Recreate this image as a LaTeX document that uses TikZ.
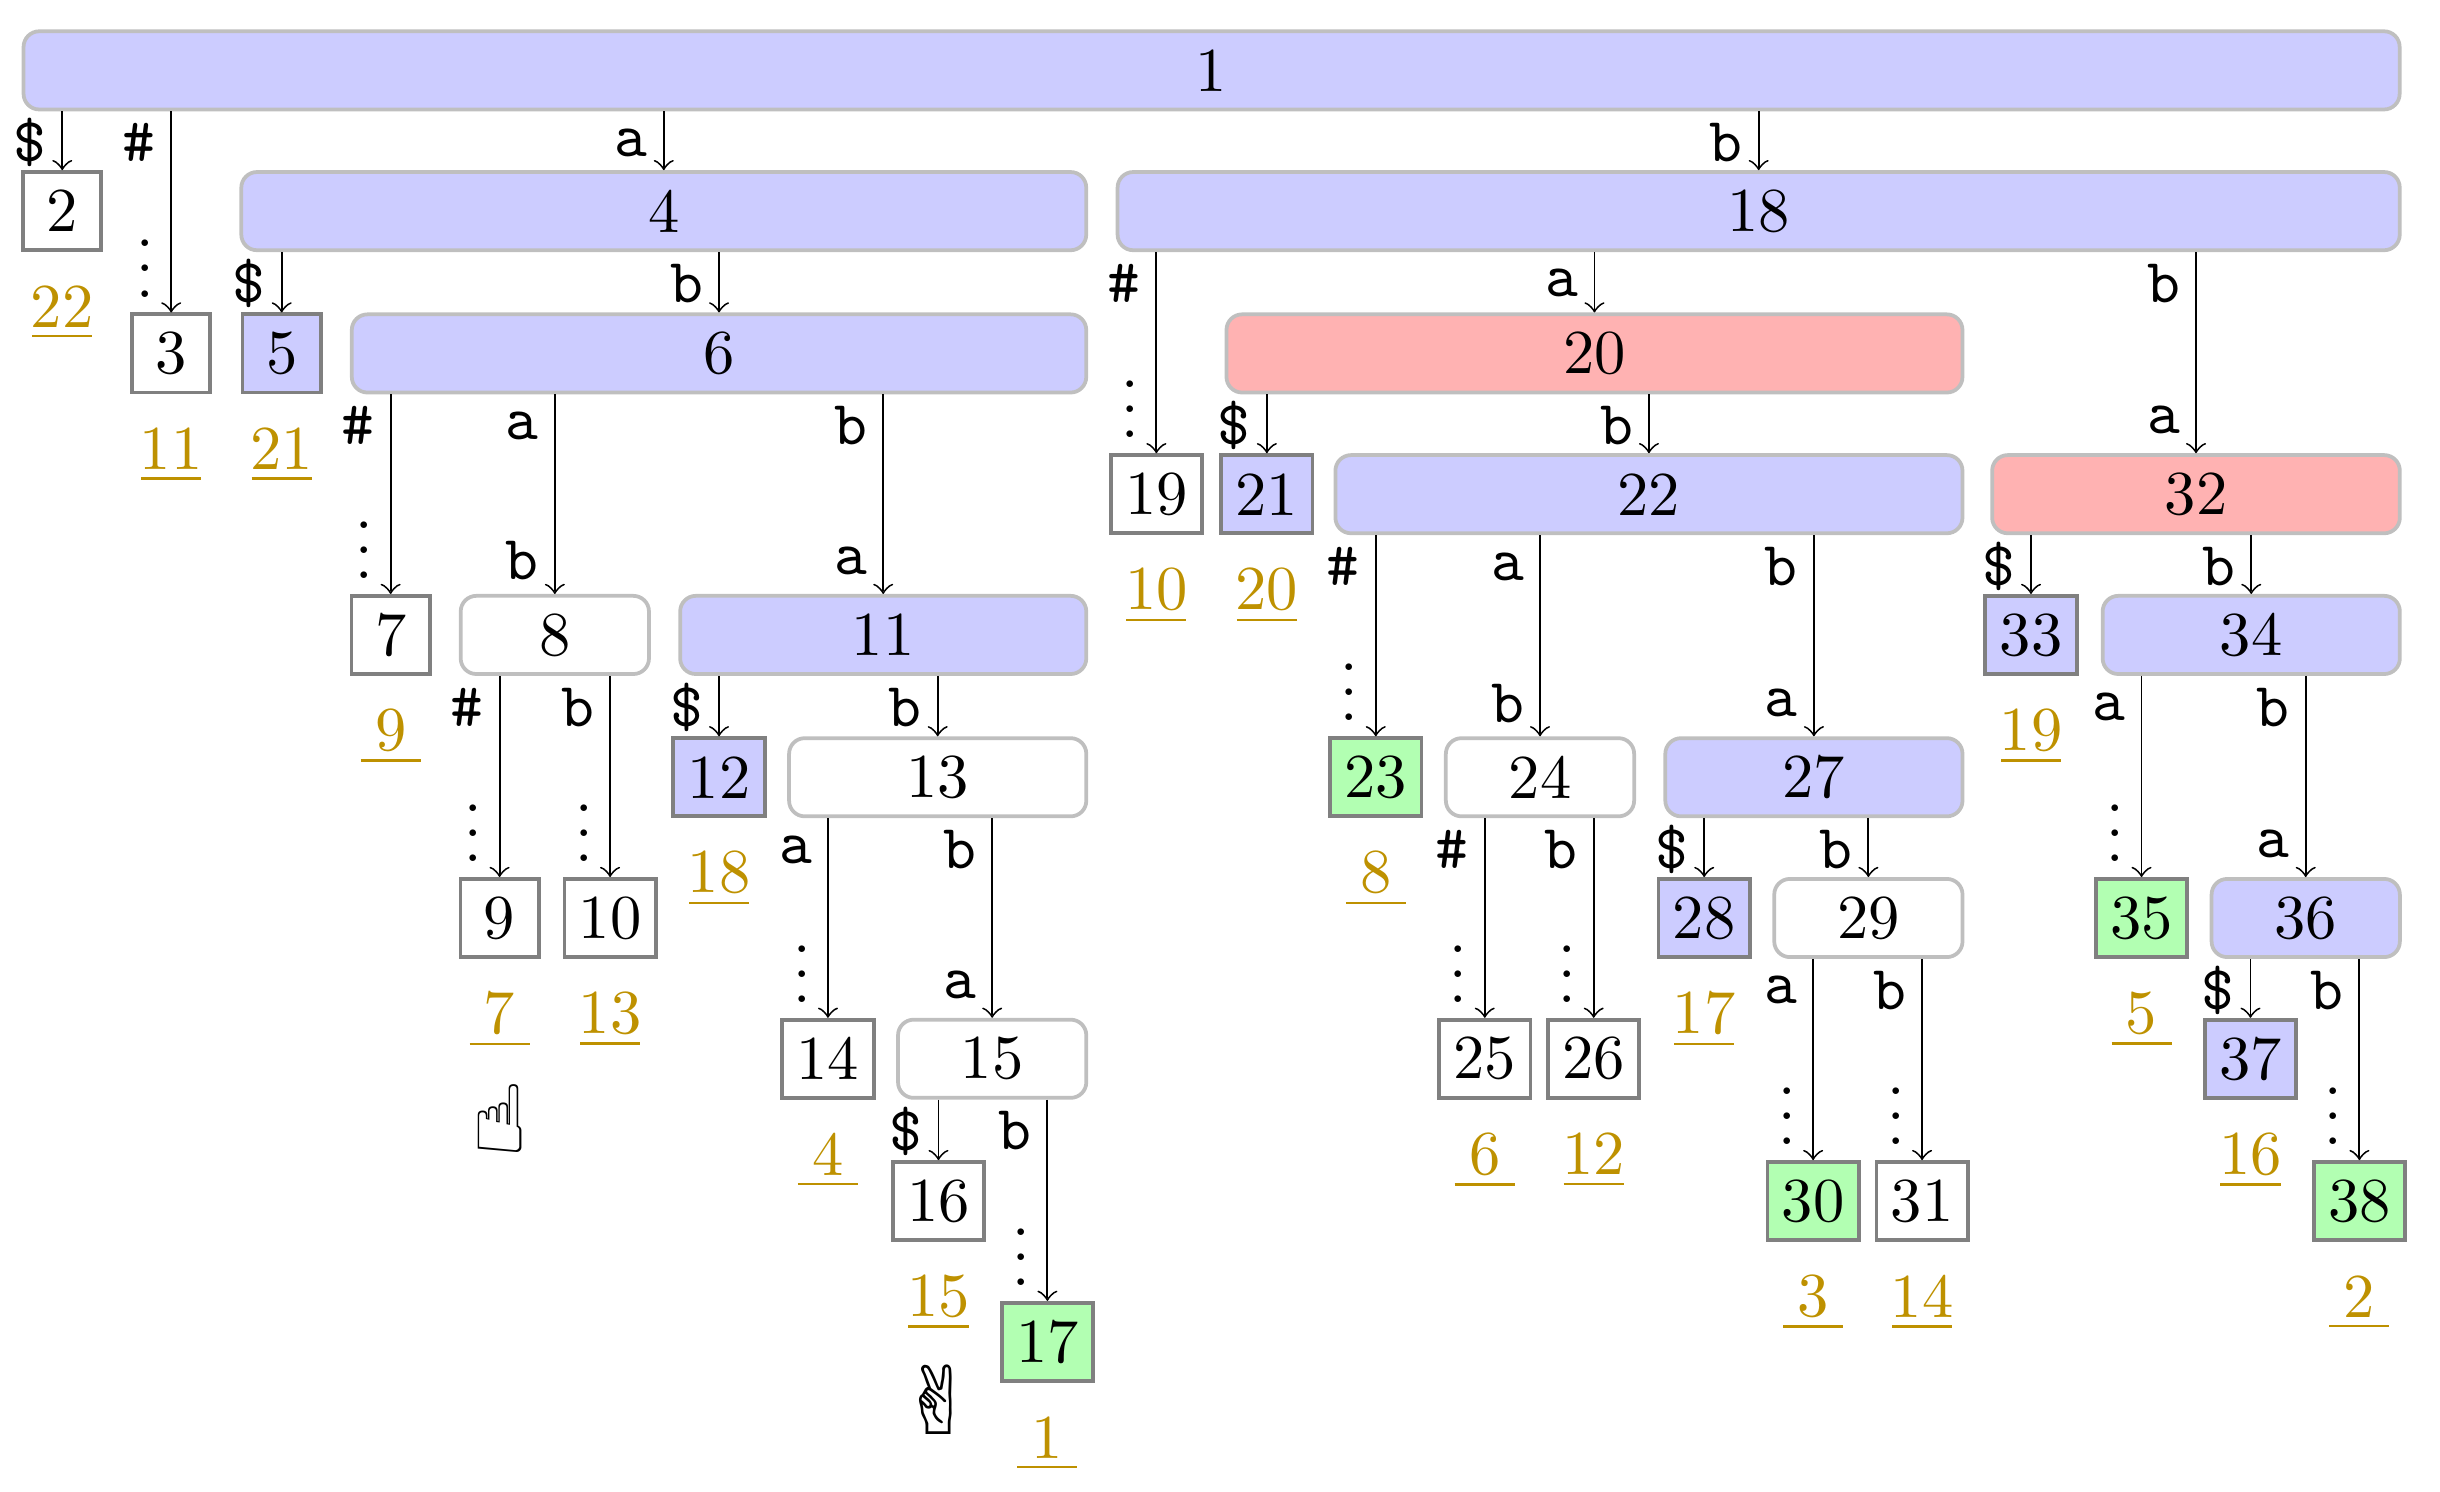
\documentclass[tikz,border=0pt]{standalone}
\usepackage{fontspec}
\newfontfamily\handfont{DejaVu Sans}
\definecolor{gold}{RGB}{190,145,0}
\begin{document}
\begin{tikzpicture}[x={(0.2488pt,0)},y={(0,-0.25pt)},
  inner/.style={draw=gray!50,line width=0.6pt,rounded corners=2.5pt,minimum height=12.5pt,inner sep=0pt},
  wd/.style={minimum width=0.995*#1 pt},
  blue/.style={inner,fill=blue!20},
  red/.style={inner,fill=red!30},
  wht/.style={inner,fill=white},
  leaf/.style={draw=gray,line width=0.6pt,minimum size=12.5pt,inner xsep=2.3pt,inner ysep=0pt},
  bleaf/.style={leaf,fill=blue!20},
  gleaf/.style={leaf,fill=green!30},
  edge/.style={->,line width=0.3pt},
  tl/.style={pos=0,xshift=-5.2pt,yshift=-5pt,inner sep=0pt,font=\ttfamily},
  bl/.style={pos=1,xshift=-5.2pt,yshift=5.3pt,inner sep=0pt,font=\ttfamily},
  dt/.style={pos=1,xshift=-4.2pt,yshift=10pt,inner sep=0pt},
  num/.style={text=gold,inner sep=0pt}]
\useasboundingbox (0,0) rectangle (1567.8,954);
% internal nodes
\node[blue,wd=381.75] (n1) at (778.5,45) {1};
\node[blue,wd=135.75] (n4) at (426.5,135) {4};
\node[blue,wd=206] (n18) at (1130,135) {18};
\node[blue,wd=118] (n6) at (462,226) {6};
\node[red,wd=118.25] (n20) at (1024.5,226) {20};
\node[blue,wd=100.75] (n22) at (1059.5,316) {22};
\node[red,wd=65.5] (n32) at (1411,316) {32};
\node[wht,wd=30.25] (n8) at (356.5,406) {8};
\node[blue,wd=65.25] (n11) at (567.5,406) {11};
\node[blue,wd=47.75] (n34) at (1446.5,406) {34};
\node[wht,wd=47.75] (n13) at (602.5,497) {13};
\node[wht,wd=30.25] (n24) at (989.5,497) {24};
\node[blue,wd=47.75] (n27) at (1165.5,497) {27};
\node[wht,wd=30.25] (n29) at (1200.5,587) {29};
\node[blue,wd=30.25] (n36) at (1481.5,587) {36};
\node[wht,wd=30.25] (n15) at (637.5,677) {15};
% leaves
\node[leaf] (n2) at (40,135) {2};
\node[leaf] (n3) at (110,226) {3};
\node[bleaf] (n5) at (181,226) {5};
\node[leaf] (n19) at (743,316) {19};
\node[bleaf] (n21) at (814,316) {21};
\node[leaf] (n7) at (251,406) {7};
\node[bleaf] (n33) at (1305,406) {33};
\node[bleaf] (n12) at (462,497) {12};
\node[gleaf] (n23) at (884,497) {23};
\node[leaf] (n9) at (321,587) {9};
\node[leaf] (n10) at (392,587) {10};
\node[bleaf] (n28) at (1095,587) {28};
\node[gleaf] (n35) at (1376,587) {35};
\node[leaf] (n14) at (532,677) {14};
\node[leaf] (n25) at (954,677) {25};
\node[leaf] (n26) at (1024,677) {26};
\node[bleaf] (n37) at (1446,677) {37};
\node[leaf] (n16) at (603,768) {16};
\node[gleaf] (n30) at (1165,768) {30};
\node[leaf] (n31) at (1235,768) {31};
\node[gleaf] (n38) at (1516,768) {38};
\node[gleaf] (n17) at (673,858) {17};
% edges
\draw[edge] (n1.south -| n2.north) -- (n2.north) node[tl]{\$};
\draw[edge] (n1.south -| n3.north) -- (n3.north) node[tl]{\#} node[dt]{$\vdots$};
\draw[edge] (n1.south -| n4.north) -- (n4.north) node[tl]{a};
\draw[edge] (n1.south -| n18.north) -- (n18.north) node[tl]{b};
\draw[edge] (n4.south -| n5.north) -- (n5.north) node[tl]{\$};
\draw[edge] (n4.south -| n6.north) -- (n6.north) node[tl]{b};
\draw[edge] (n18.south -| n19.north) -- (n19.north) node[tl]{\#} node[dt]{$\vdots$};
\draw[edge] (n18.south -| n20.north) -- (n20.north) node[tl]{a};
\draw[edge] (n18.south -| n32.north) -- (n32.north) node[tl]{b} node[bl]{a};
\draw[edge] (n6.south -| n7.north) -- (n7.north) node[tl]{\#} node[dt]{$\vdots$};
\draw[edge] (n6.south -| n8.north) -- (n8.north) node[tl]{a} node[bl]{b};
\draw[edge] (n6.south -| n11.north) -- (n11.north) node[tl]{b} node[bl]{a};
\draw[edge] (n20.south -| n21.north) -- (n21.north) node[tl]{\$};
\draw[edge] (n20.south -| n22.north) -- (n22.north) node[tl]{b};
\draw[edge] (n22.south -| n23.north) -- (n23.north) node[tl]{\#} node[dt]{$\vdots$};
\draw[edge] (n22.south -| n24.north) -- (n24.north) node[tl]{a} node[bl]{b};
\draw[edge] (n22.south -| n27.north) -- (n27.north) node[tl]{b} node[bl]{a};
\draw[edge] (n32.south -| n33.north) -- (n33.north) node[tl]{\$};
\draw[edge] (n32.south -| n34.north) -- (n34.north) node[tl]{b};
\draw[edge] (n8.south -| n9.north) -- (n9.north) node[tl]{\#} node[dt]{$\vdots$};
\draw[edge] (n8.south -| n10.north) -- (n10.north) node[tl]{b} node[dt]{$\vdots$};
\draw[edge] (n11.south -| n12.north) -- (n12.north) node[tl]{\$};
\draw[edge] (n11.south -| n13.north) -- (n13.north) node[tl]{b};
\draw[edge] (n34.south -| n35.north) -- (n35.north) node[tl]{a} node[dt]{$\vdots$};
\draw[edge] (n34.south -| n36.north) -- (n36.north) node[tl]{b} node[bl]{a};
\draw[edge] (n13.south -| n14.north) -- (n14.north) node[tl]{a} node[dt]{$\vdots$};
\draw[edge] (n13.south -| n15.north) -- (n15.north) node[tl]{b} node[bl]{a};
\draw[edge] (n24.south -| n25.north) -- (n25.north) node[tl]{\#} node[dt]{$\vdots$};
\draw[edge] (n24.south -| n26.north) -- (n26.north) node[tl]{b} node[dt]{$\vdots$};
\draw[edge] (n27.south -| n28.north) -- (n28.north) node[tl]{\$};
\draw[edge] (n27.south -| n29.north) -- (n29.north) node[tl]{b};
\draw[edge] (n29.south -| n30.north) -- (n30.north) node[tl]{a} node[dt]{$\vdots$};
\draw[edge] (n29.south -| n31.north) -- (n31.north) node[tl]{b} node[dt]{$\vdots$};
\draw[edge] (n36.south -| n37.north) -- (n37.north) node[tl]{\$};
\draw[edge] (n36.south -| n38.north) -- (n38.north) node[tl]{b} node[dt]{$\vdots$};
\draw[edge] (n15.south -| n16.north) -- (n16.north) node[tl]{\$};
\draw[edge] (n15.south -| n17.north) -- (n17.north) node[tl]{b} node[dt]{$\vdots$};
% positions
\foreach \n/\v in {2/22,3/11,5/21,7/9,9/7,10/13,12/18,14/4,16/15,17/1,19/10,21/20,23/8,25/6,26/12,28/17,30/3,31/14,33/19,35/5,37/16,38/2}
  \node[num,yshift=-16.25pt] (p\n) at (n\n.center) {\underline{\makebox[9.6pt]{\v}}};
% hands
\node[font=\handfont\fontsize{15}{15}\selectfont,inner sep=0pt] (h1) at (321,715) {☝};
\node[font=\handfont\fontsize{15}{15}\selectfont,inner sep=0pt] (h2) at (603,895) {✌};
\end{tikzpicture}
\end{document}
